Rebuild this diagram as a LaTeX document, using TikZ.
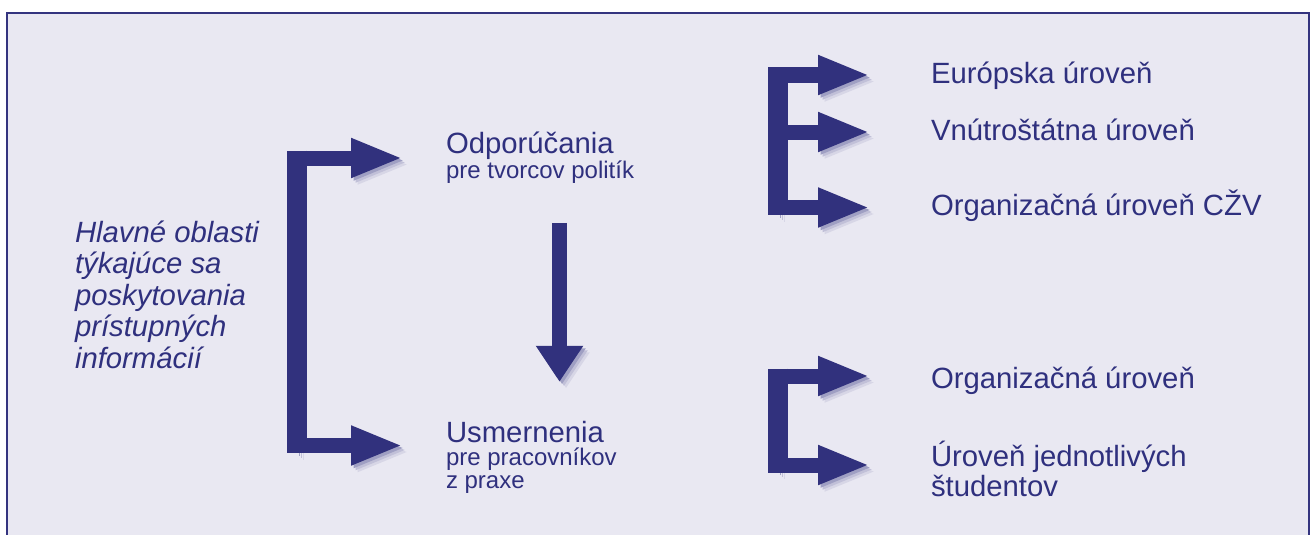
\documentclass[tikz,border=0pt]{standalone}
\usepackage{fontspec}
\setmainfont{Liberation Sans}
\usetikzlibrary{arrows.meta,positioning}
\definecolor{framenavy}{HTML}{34347F}
\definecolor{arrownavy}{HTML}{31317D}
\definecolor{textnavy}{HTML}{2F307E}
\definecolor{panelbg}{HTML}{E9E8F2}
\colorlet{shadowfar}{arrownavy!10!panelbg}
\colorlet{shadowmid}{arrownavy!22!panelbg}
\colorlet{shadownear}{arrownavy!40!panelbg}

\begin{document}
\begin{tikzpicture}[
    x=1pt, y=-1pt,
    every node/.style={inner sep=0pt, outer sep=0pt, text=textnavy, anchor=base west},
    big/.style={font=\fontsize{29.3}{30}\selectfont},
    small/.style={font=\fontsize{24}{23}\selectfont},
    blur/.style={
        preaction={draw=shadowfar, transform canvas={shift={(6.5pt,-6.5pt)}}},
        preaction={draw=shadowmid, transform canvas={shift={(4.5pt,-4.5pt)}}},
        preaction={draw=shadownear, transform canvas={shift={(2.5pt,-2.5pt)}}}
    },
    spine/.style={draw=arrownavy, line width=20pt, blur},
    branch/.style={draw=arrownavy, line width=15pt, -{Triangle[length=52pt,width=36pt]}, blur},
    drop/.style={draw=arrownavy, line width=15pt, -{Triangle[length=36pt,width=45pt]}, blur}
]
    \useasboundingbox (0,0) rectangle (1311,535);
    \fill[white] (0,0) rectangle (1311,535);

    % === PANEL ===
    \fill[panelbg] (7,13) rectangle (1310,535);
    \draw[framenavy, line width=2pt] (7,536) -- (7,13) -- (1309,13) -- (1309,536);

    % === LEFT: MAIN AREAS ===
    % (multi-line nodes sit on their last baseline)
    \node[align=left, font=\itshape\fontsize{29.3}{31.5}\selectfont] (areas) at (75,368) {%
        Hlavné oblasti\\týkajúce sa\\poskytovania\\prístupných\\informácií};

    % Recommendations and guidelines
    \node[big] (policy) at (446,153) {Odporúčania};
    \node[small] (policysub) at (446,178) {pre tvorcov politík};
    \node[big] (guide) at (446,442) {Usmernenia};
    \node[small, align=left] (guidesub) at (446,488) {pre pracovníkov\\z praxe};

    % Bracket towards both
    \coordinate (ltop) at (297,150.5);
    \coordinate (lbot) at (297,453);
    \coordinate (lb1) at (307,158);
    \coordinate (lb2) at (307,445.5);
    \draw[branch, shorten >=43pt] (lb1) -- (lb1 -| policy.west);
    \draw[branch, shorten >=43pt] (lb2) -- (lb2 -| guide.west);
    \draw[spine] (ltop) -- (lbot);

    % Recommendations lead to guidelines
    \coordinate (dcol) at (559.5,0);
    \draw[drop, shorten <=40pt, shorten >=39pt] (policysub.south -| dcol) -- (guide.north -| dcol);

    % === RIGHT TOP: POLICY LEVELS ===
    \node[big] (europe) at (931,83) {Európska úroveň};
    \node[big] (nation) at (931,140) {Vnútroštátna úroveň};
    \node[big] (orgvet) at (931,215) {Organizačná úroveň CŽV};

    \coordinate (rtop) at (777.5,67.5);
    \coordinate (rbot) at (777.5,215);
    \coordinate (rb1) at (787,75);
    \coordinate (rb2) at (787,132);
    \coordinate (rb3) at (787,207.5);
    \draw[branch, shorten >=61pt] (rb1) -- (rb1 -| europe.west);
    \draw[branch, shorten >=61pt] (rb2) -- (rb2 -| nation.west);
    \draw[branch, shorten >=61pt] (rb3) -- (rb3 -| orgvet.west);
    \draw[spine] (rtop) -- (rbot);

    % === RIGHT BOTTOM: PRACTICE LEVELS ===
    \node[big] (orglevel) at (931,388) {Organizačná úroveň};
    \node[big, align=left] (student) at (931,496) {Úroveň jednotlivých\\študentov};

    \coordinate (stop) at (777.5,368.5);
    \coordinate (sbot) at (777.5,472.5);
    \coordinate (sb1) at (787,376);
    \coordinate (sb2) at (787,465);
    \draw[branch, shorten >=61pt] (sb1) -- (sb1 -| orglevel.west);
    \draw[branch, shorten >=61pt] (sb2) -- (sb2 -| student.west);
    \draw[spine] (stop) -- (sbot);
\end{tikzpicture}
\end{document}
